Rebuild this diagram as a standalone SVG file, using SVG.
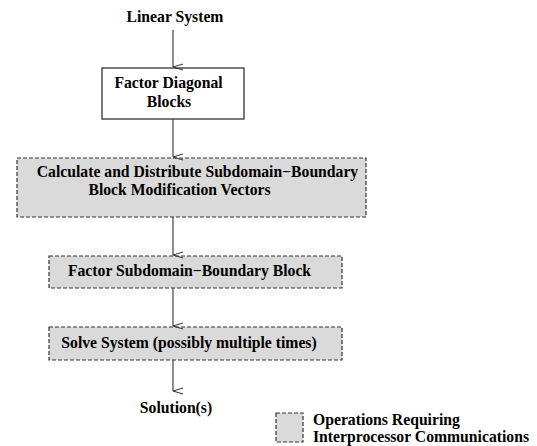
<svg xmlns="http://www.w3.org/2000/svg" width="537" height="446" viewBox="0 0 537 446">
<defs>
<marker id="arr" markerWidth="8" markerHeight="12" refX="4" refY="11" orient="auto-start-reverse" markerUnits="userSpaceOnUse" viewBox="0 0 8 12">
<path d="M1,1 L4,11 L7,1" fill="none" stroke="#333" stroke-width="1"/>
</marker>
</defs>
<style>
text{font-family:"Liberation Serif","Times New Roman",serif;font-weight:bold;font-size:15.7px;fill:#000}
.plain{fill:#fff;stroke:#222;stroke-width:1.2}
.comm{fill:#dadada;stroke:#333;stroke-width:1.2;stroke-dasharray:4,2}
.conn line{stroke:#444;stroke-width:1.2;marker-end:url(#arr)}
</style>
<rect width="537" height="446" fill="#fff"/>
<g id="n-linear"><text x="175" y="22" text-anchor="middle">Linear System</text></g>
<g id="n-factor-diag">
<rect class="plain" x="102" y="68" width="142" height="51"/>
<text x="168.5" y="88" text-anchor="middle">Factor Diagonal</text>
<text x="169" y="107" text-anchor="middle">Blocks</text>
</g>
<g id="n-calc">
<rect class="comm" x="17" y="158" width="349" height="59"/>
<text x="197.5" y="177" text-anchor="middle">Calculate and Distribute Subdomain−Boundary</text>
<text x="179.5" y="195" text-anchor="middle">Block Modification Vectors</text>
</g>
<g id="n-factor-sb">
<rect class="comm" x="49" y="256" width="293" height="32"/>
<text x="189.5" y="276" text-anchor="middle">Factor Subdomain−Boundary Block</text>
</g>
<g id="n-solve">
<rect class="comm" x="49" y="327" width="293" height="33"/>
<text x="189" y="348" text-anchor="middle">Solve System (possibly multiple times)</text>
</g>
<g id="n-solution"><text x="176" y="413" text-anchor="middle">Solution(s)</text></g>
<g id="legend">
<rect class="comm" x="276" y="413" width="27" height="29"/>
<text x="313" y="425">Operations Requiring</text>
<text x="313" y="442">Interprocessor Communications</text>
</g>
<g class="conn" id="connectors">
<line x1="173" y1="30" x2="173" y2="67"/>
<line x1="173" y1="119" x2="173" y2="157"/>
<line x1="173" y1="217" x2="173" y2="255"/>
<line x1="173" y1="288" x2="173" y2="326"/>
<line x1="173" y1="360" x2="173" y2="391"/>
</g>
</svg>
